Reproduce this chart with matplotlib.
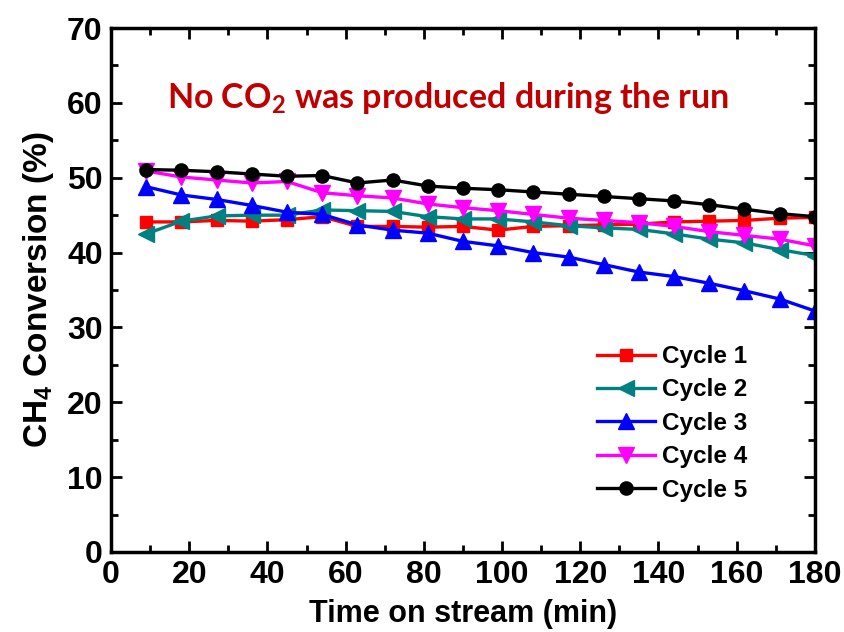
import matplotlib
matplotlib.use("Agg")
import matplotlib.pyplot as plt
from matplotlib.ticker import MultipleLocator

plt.rcParams['font.family'] = ['Liberation Sans', 'DejaVu Sans']
plt.rcParams['font.weight'] = 'bold'

# time on stream (min)
time = [9, 18, 27, 36, 45, 54, 63, 72, 81, 90, 99, 108, 117, 126, 135, 144, 153, 162, 171, 180]

cycle1 = [44.1, 44.1, 44.3, 44.2, 44.4, 44.8, 43.5, 43.5, 43.4, 43.5, 43.0, 43.5,
          43.6, 43.7, 43.8, 44.1, 44.2, 44.3, 44.6, 44.7]
cycle2 = [42.5, 44.2, 44.9, 45.0, 45.0, 45.7, 45.6, 45.5, 44.8, 44.5, 44.5, 44.1,
          43.6, 43.3, 43.1, 42.5, 41.8, 41.3, 40.4, 39.6]
cycle3 = [48.8, 47.7, 47.1, 46.3, 45.4, 45.1, 43.7, 43.0, 42.6, 41.5, 40.9, 40.0,
          39.4, 38.4, 37.4, 36.8, 35.9, 34.9, 33.8, 32.2]
cycle4 = [50.9, 50.1, 49.7, 49.3, 49.5, 48.0, 47.6, 47.3, 46.5, 46.0, 45.6, 45.1,
          44.6, 44.3, 44.0, 43.5, 42.8, 42.3, 41.8, 40.9]
cycle5 = [51.1, 51.0, 50.8, 50.5, 50.2, 50.3, 49.3, 49.7, 48.9, 48.6, 48.4, 48.1,
          47.8, 47.5, 47.2, 46.9, 46.4, 45.8, 45.2, 44.8]

fig = plt.figure(figsize=(8.44, 6.32), dpi=100)
ax = fig.add_axes([0.1315, 0.1266, 0.834, 0.829])

ms = 9.5
lw = 2.4
ax.plot(time, cycle1, color='#ff0000', marker='s', ms=ms - 1, lw=lw, label='Cycle 1')
ax.plot(time, cycle2, color='#008080', marker='<', ms=ms + 2, lw=lw, label='Cycle 2')
ax.plot(time, cycle3, color='#0000ff', marker='^', ms=ms + 2, lw=lw, label='Cycle 3')
ax.plot(time, cycle4, color='#ff00ff', marker='v', ms=ms + 2, lw=lw, label='Cycle 4')
ax.plot(time, cycle5, color='#000000', marker='o', ms=ms, lw=lw, label='Cycle 5')

ax.set_xlim(0, 180)
ax.set_ylim(0, 70)
ax.xaxis.set_major_locator(MultipleLocator(20))
ax.xaxis.set_minor_locator(MultipleLocator(10))
ax.yaxis.set_major_locator(MultipleLocator(10))
ax.yaxis.set_minor_locator(MultipleLocator(5))
ax.tick_params(which='both', direction='in', top=True, right=True, width=2)
ax.tick_params(which='major', length=8, labelsize=23, pad=6)
ax.tick_params(which='minor', length=5)
for s in ax.spines.values():
    s.set_linewidth(2.5)

ax.set_xlabel('Time on stream (min)', fontsize=22, fontweight='bold', labelpad=6)
ax.set_ylabel(r'CH$\mathregular{_4}$ Conversion (%)', fontsize=24, fontweight='bold',
              labelpad=8)

ax.text(0.08, 0.847, r'No CO$\mathregular{_2}$ was produced during the run',
        transform=ax.transAxes, color='#c00000', fontsize=24.5, fontweight='bold',
        family=['Lato', 'DejaVu Sans'], va='baseline', ha='left')

leg = ax.legend(loc='upper left', bbox_to_anchor=(0.69, 0.395), frameon=False,
                fontsize=17.5, handlelength=2.4, labelspacing=0.43, handletextpad=0.3,
                borderaxespad=0, borderpad=0)
for t in leg.get_texts():
    t.set_fontweight('bold')

fig.savefig('out.png', dpi=100)
